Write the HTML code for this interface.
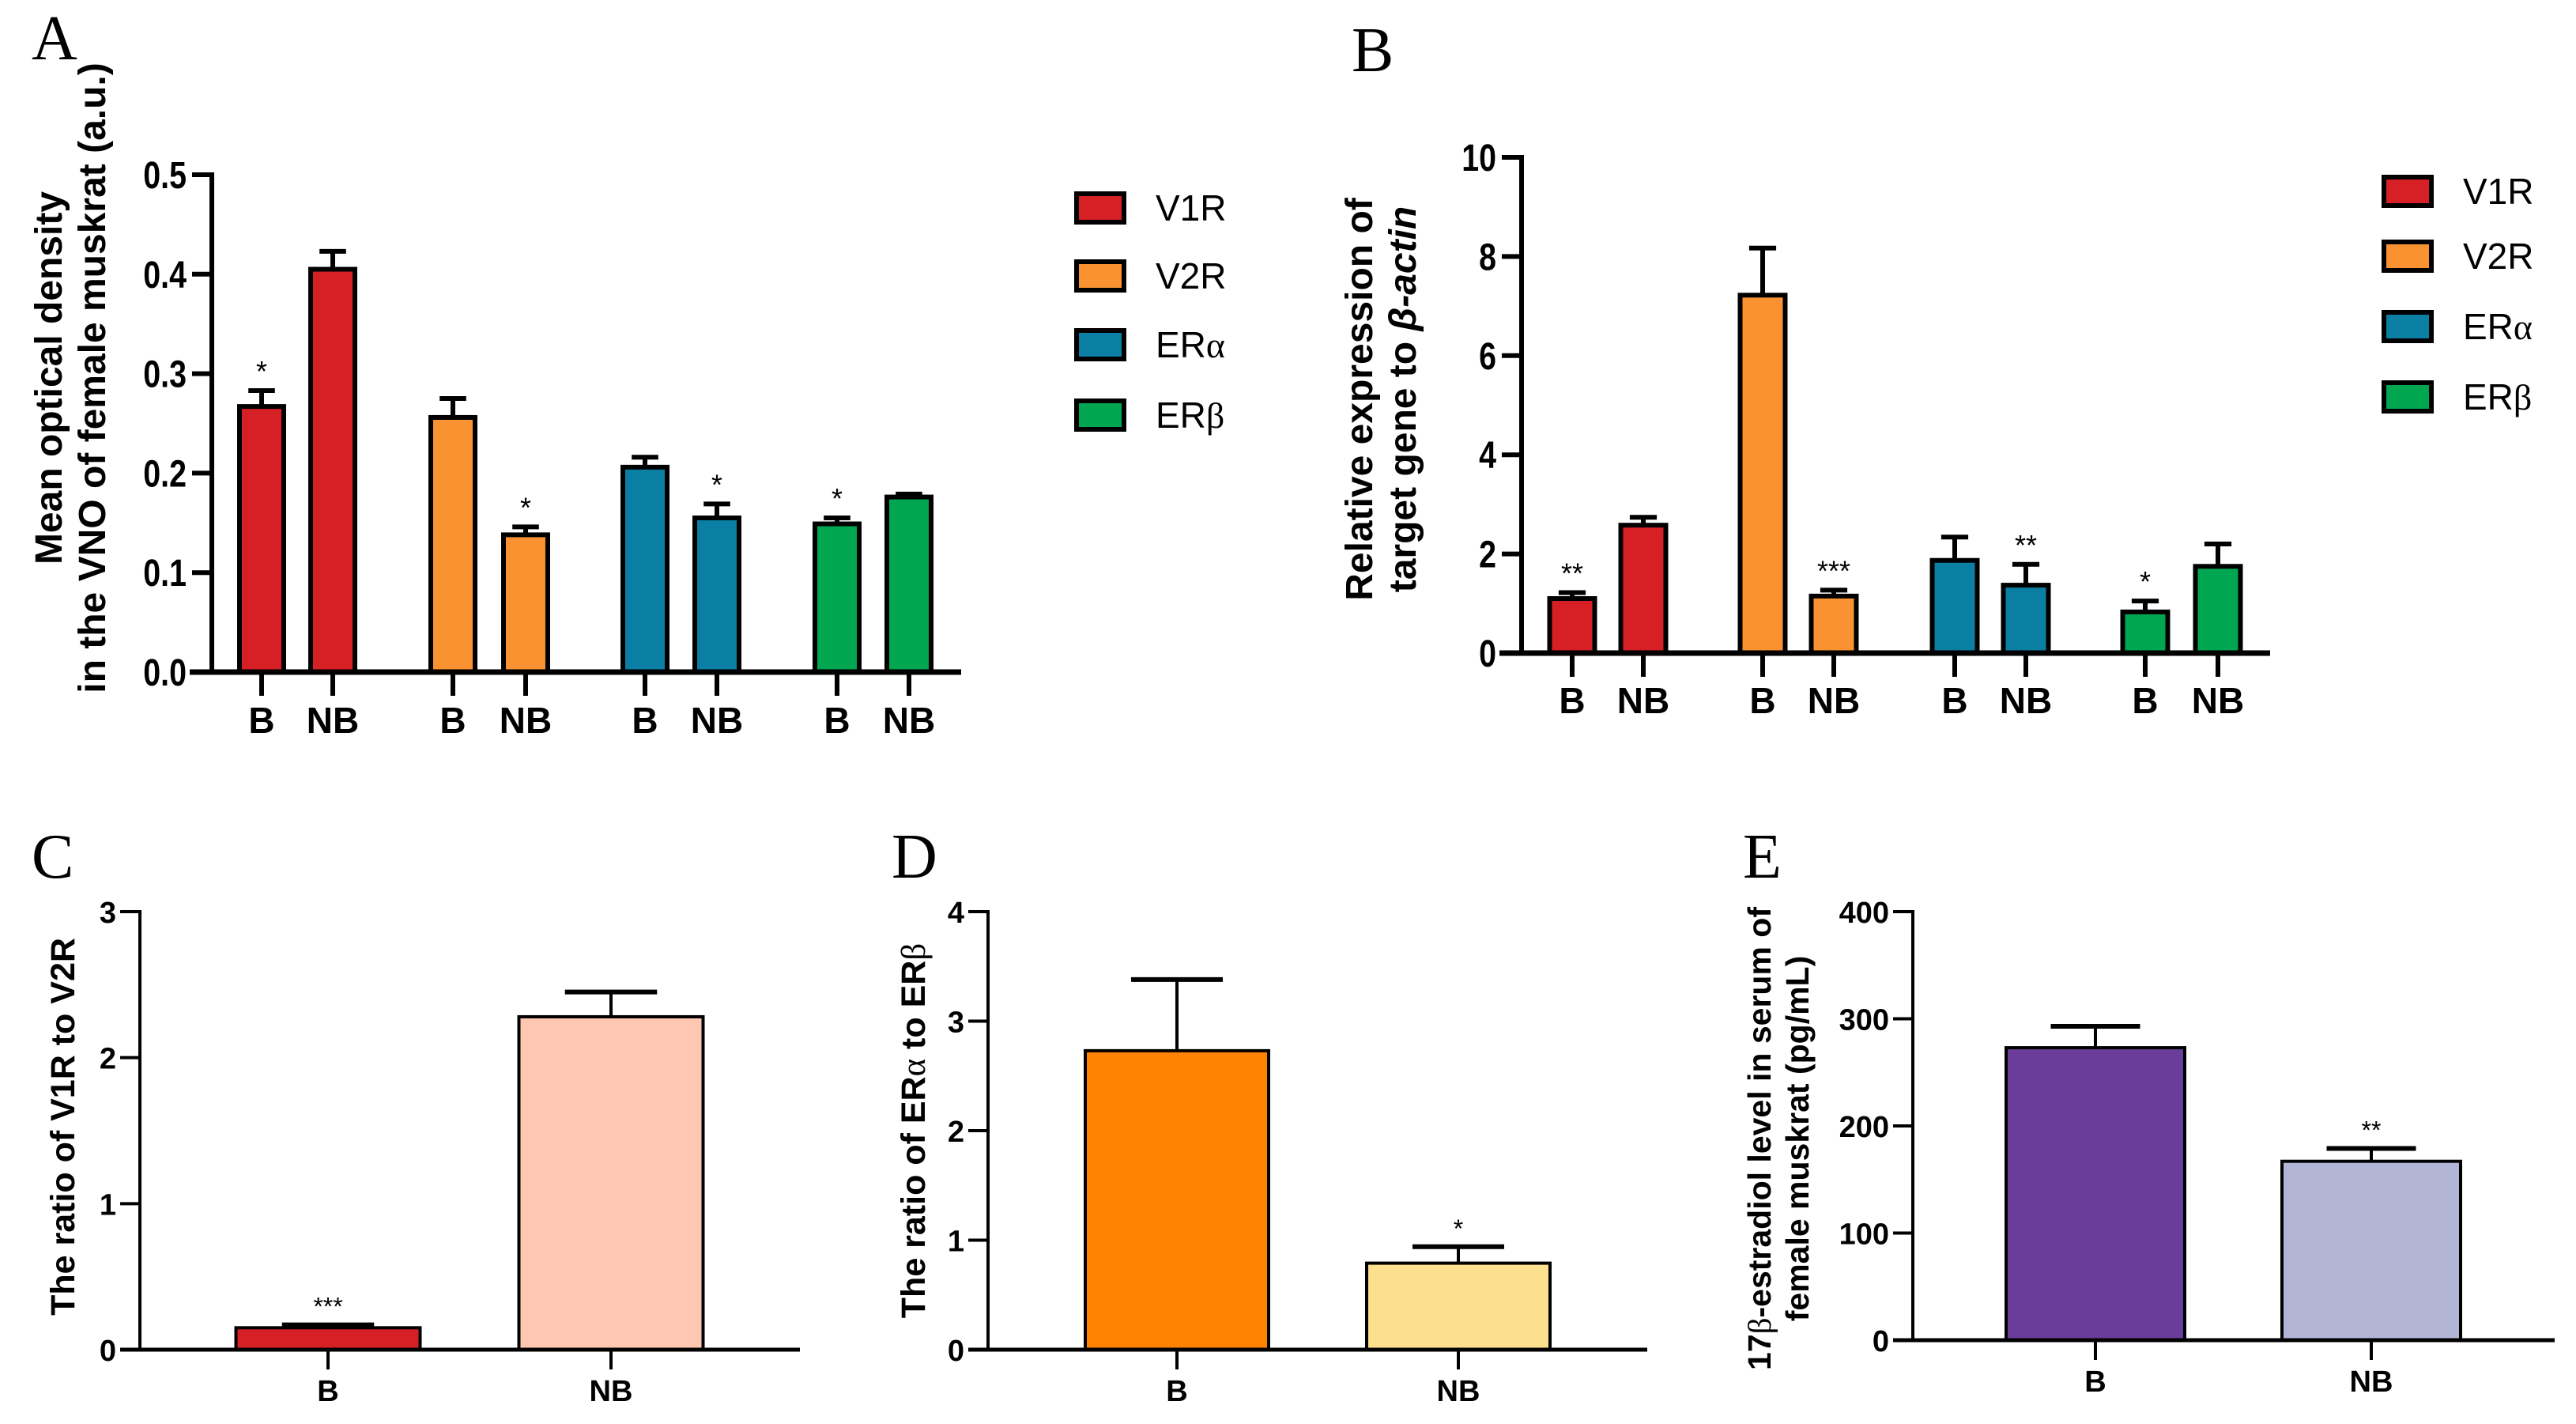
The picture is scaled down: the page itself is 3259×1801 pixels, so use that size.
<!DOCTYPE html>
<html><head><meta charset="utf-8">
<style>
html,body{margin:0;padding:0;background:#fff;}
svg{display:block;}
text{font-family:"Liberation Sans",Arial,sans-serif;}
.pl{font-family:"Liberation Serif",serif;font-size:80px;}
</style></head>
<body>
<svg id="fig" width="3259" height="1801" viewBox="0 0 3259 1801" xmlns="http://www.w3.org/2000/svg">
<text class="pl" x="40" y="75">A</text>
<text class="pl" x="1710" y="90">B</text>
<text class="pl" x="40" y="1110">C</text>
<text class="pl" x="1128" y="1110">D</text>
<text class="pl" x="2205" y="1110">E</text>
</svg>
<script>
// Panel A data
const aGroups = ["V1R","V2R","ERα","ERβ"];
const aCats = ["B","NB"];
const aMeans = [[0.267,0.405],[0.256,0.138],[0.206,0.155],[0.149,0.176]];
const aErrs = [[0.016,0.018],[0.019,0.008],[0.010,0.014],[0.006,0.003]];
const aStars = [["*",""],["","*"],["","*"],["*",""]];
const aTicks = ["0.0","0.1","0.2","0.3","0.4","0.5"];
// Panel B data
const bMeans = [[1.10,2.58],[7.22,1.15],[1.87,1.37],[0.83,1.75]];
const bErrs = [[0.12,0.16],[0.95,0.12],[0.47,0.42],[0.22,0.45]];
const bStars = [["**",""],["","***"],["","**"],["*",""]];
const bTicks = ["0","2","4","6","8","10"];
// Panels C, D, E
const cCats = ["B","NB"];
const cMeans = [0.15,2.28];
const cErrs = [0.02,0.17];
const cStars = ["***",""];
const cTicks = ["0","1","2","3"];
const dMeans = [2.73,0.79];
const dErrs = [0.65,0.15];
const dStars = ["","*"];
const dTicks = ["0","1","2","3","4"];
const eMeans = [273,167];
const eErrs = [20,12];
const eStars = ["","**"];
const eTicks = ["0","100","200","300","400"];

const groupColors = ["#d71f26","#fb9232","#0a7fa3","#00a650"];
const NS="http://www.w3.org/2000/svg";
const svg=document.getElementById('fig');
function mk(tag,attrs,parent){const e=document.createElementNS(NS,tag);for(const k in attrs)e.setAttribute(k,attrs[k]);(parent||svg).appendChild(e);return e;}

function yScale(y0,y1,max){return v=>y0-(v/max)*(y0-y1);}

function grouped(o){
  const g=mk('g',{});
  
  
  const ys=yScale(o.y0,o.y1,o.max);
  o.means.forEach((arr,gi)=>{
    arr.forEach((v,ci)=>{
      const cx=o.centers[gi][ci];
      const top=ys(v), te=ys(v+o.errs[gi][ci]);
      const eb=mk('line',{x1:cx,x2:cx,y1:top,y2:te,stroke:'#000','stroke-width':6},g);
      
      
      const cap=mk('line',{x1:cx-o.bw*0.3,x2:cx+o.bw*0.3,y1:te,y2:te,stroke:'#000','stroke-width':6},g);
      
      
      const r=mk('rect',{x:cx-o.bw/2,y:top,width:o.bw,height:o.y0-top,fill:groupColors[gi],stroke:'#000','stroke-width':6},g);
      
      
      if(o.stars[gi][ci]){
        const s=mk('text',{x:cx,y:te-12,'text-anchor':'middle','font-size':36},g);
        s.textContent=o.stars[gi][ci];
        
        
      }
      mk('line',{x1:cx,x2:cx,y1:o.y0,y2:o.y0+30,stroke:'#000','stroke-width':6},g);
      const t=mk('text',{x:cx,y:o.labY,'text-anchor':'middle','font-size':46,'font-weight':'bold'},g);
      t.textContent=o.cats[ci];
      
      
    });
  });
  const ya=mk('line',{x1:o.ax,x2:o.ax,y1:o.y1-3,y2:o.y0+3,stroke:'#000','stroke-width':6},g);
  
  
  const xa=mk('line',{x1:o.ax-28,x2:o.xend,y1:o.y0,y2:o.y0,stroke:'#000','stroke-width':7},g);
  
  
  o.ticks.forEach((tk,i)=>{
    const y=ys(parseFloat(tk));
    mk('line',{x1:o.ax-25,x2:o.ax,y1:y,y2:y,stroke:'#000','stroke-width':6},g);
    const t=mk('text',{x:o.ax-32,y:y+17,'text-anchor':'end','font-size':48,'font-weight':'bold',transform:`translate(${o.ax-32},0) scale(0.82,1) translate(${-(o.ax-32)},0)`},g);
    t.textContent=tk;
    
    
  });
  const tt=mk('text',{transform:`translate(${o.tx},${o.ty}) rotate(-90)`,'text-anchor':'middle','font-size':48,'font-weight':'bold'},g);
  
  
  o.title.forEach((ln,i)=>{const ts=mk('tspan',{x:0,dy:i?55:0},tt);ts.innerHTML=ln;});
  o.groups.forEach((gname,gi)=>{
    const y=o.legY[gi];
    const lg=mk('g',{},g);
    
    
    mk('rect',{x:o.legX,y:y-18,width:60,height:36,fill:groupColors[gi],stroke:'#000','stroke-width':6},lg);
    const t=mk('text',{x:o.legX+100,y:y+16,'font-size':46},lg);
    t.innerHTML=gname.replace(/([αβ])/,'<tspan font-family="Liberation Serif">$1</tspan>');
  });
}

grouped({name:'panel-a',ax:268,y0:850,y1:221,max:0.5,xend:1216,bw:56,
  centers:[[331,421],[573,665],[816,907],[1059,1150]],labY:927,
  means:aMeans,errs:aErrs,stars:aStars,ticks:aTicks,groups:aGroups,cats:aCats,
  tx:78,ty:478,title:['Mean optical density','in the VNO of female muskrat (a.u.)'],
  legX:1362,legY:[263,349,436,525]});
grouped({name:'panel-b',ax:1925,y0:826,y1:199,max:10,xend:2872,bw:57,
  centers:[[1989,2079],[2230,2320],[2473,2563],[2714,2806]],labY:902,
  means:bMeans,errs:bErrs,stars:bStars,ticks:bTicks,groups:aGroups,cats:aCats,
  tx:1736,ty:505,title:['Relative expression of','target gene to <tspan font-style="italic">β-actin</tspan>'],
  legX:3016,legY:[242,324,413,502]});

function simple(o){
  const g=mk('g',{});
  
  
  const ys=yScale(o.y0,o.y1,o.max);
  o.means.forEach((v,i)=>{
    const cx=o.centers[i];
    const top=ys(v), te=ys(v+o.errs[i]);
    mk('line',{x1:cx,x2:cx,y1:top,y2:te,stroke:'#000','stroke-width':4},g);
    mk('line',{x1:cx-o.bw*0.25,x2:cx+o.bw*0.25,y1:te,y2:te,stroke:'#000','stroke-width':6},g);
    const r=mk('rect',{x:cx-o.bw/2,y:top,width:o.bw,height:o.y0-top,fill:o.colors[i],stroke:'#000','stroke-width':4},g);
    
    
    if(o.stars[i]){
      const s=mk('text',{x:cx,y:te-12,'text-anchor':'middle','font-size':32},g);
      s.textContent=o.stars[i];
      
      
    }
    mk('line',{x1:cx,x2:cx,y1:o.y0,y2:o.y0+25,stroke:'#000','stroke-width':4},g);
    const t=mk('text',{x:cx,y:o.y0+65,'text-anchor':'middle','font-size':38,'font-weight':'bold'},g);
    t.textContent=o.cats[i];
    
    
  });
  const ya=mk('line',{x1:o.ax,x2:o.ax,y1:o.y1-2,y2:o.y0,stroke:'#000','stroke-width':4},g);
  
  
  const xa=mk('line',{x1:o.ax-25,x2:o.xend,y1:o.y0,y2:o.y0,stroke:'#000','stroke-width':5},g);
  
  
  o.ticks.forEach(tk=>{
    const y=ys(parseFloat(tk));
    mk('line',{x1:o.ax-25,x2:o.ax,y1:y,y2:y,stroke:'#000','stroke-width':4},g);
    const t=mk('text',{x:o.ax-30,y:y+14,'text-anchor':'end','font-size':38,'font-weight':'bold'},g);
    t.textContent=tk;
    
    
  });
  const tt=mk('text',{transform:`translate(${o.tx},${o.ty}) rotate(-90)`,'text-anchor':'middle','font-size':o.fs||43,'font-weight':'bold'},g);
  
  
  o.title.forEach((ln,i)=>{const ts=mk('tspan',{x:0,dy:i?48:0},tt);ts.innerHTML=ln;});
}
simple({name:'panel-c',ax:177,y0:1707,y1:1153,max:3,xend:1012,bw:233,centers:[415,773],
  means:cMeans,errs:cErrs,stars:cStars,ticks:cTicks,cats:cCats,colors:['#d71f26','#fdc7b1'],
  tx:94,ty:1425,title:['The ratio of V1R to V2R']});
simple({name:'panel-d',ax:1250,y0:1707,y1:1153,max:4,xend:2084,bw:232,centers:[1489,1845],
  means:dMeans,errs:dErrs,stars:dStars,ticks:dTicks,cats:cCats,colors:['#ff8200','#fde08e'],
  tx:1170,ty:1430,title:['The ratio of ER<tspan font-family="Liberation Serif" font-weight="normal">α</tspan> to ER<tspan font-family="Liberation Serif" font-weight="normal">β</tspan>']});
simple({name:'panel-e',ax:2420,y0:1695,y1:1153,max:400,xend:3232,bw:226,centers:[2651,3000],fs:41,
  means:eMeans,errs:eErrs,stars:eStars,ticks:eTicks,cats:cCats,colors:['#6b3d9a','#b3b5d6'],
  tx:2240,ty:1440,title:['17<tspan font-family="Liberation Serif" font-weight="normal">β</tspan>-estradiol level in serum of','female muskrat (pg/mL)']});
</script>
</body></html>
